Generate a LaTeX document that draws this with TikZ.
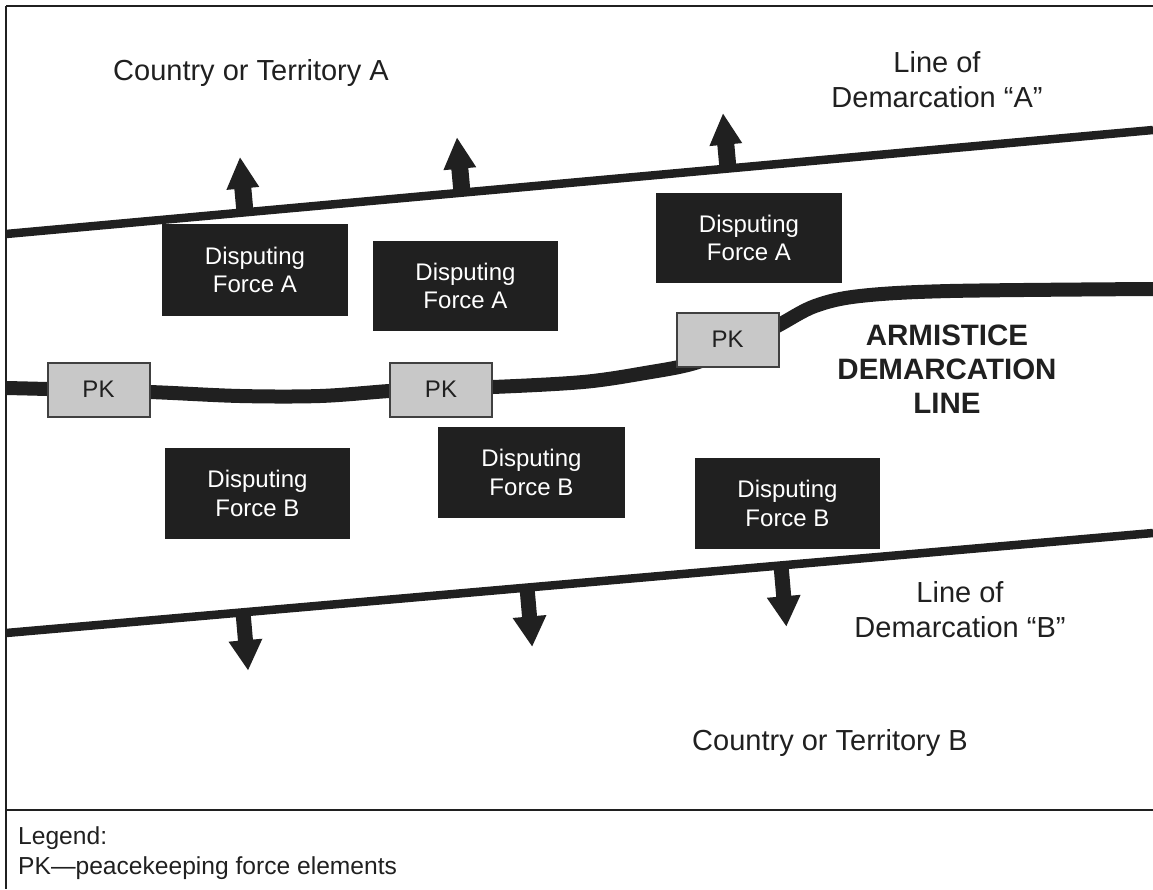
\documentclass[tikz,border=0pt]{standalone}
\usepackage{fontspec}
\setmainfont{Liberation Sans}
\definecolor{ink}{HTML}{202020}
\definecolor{pkgray}{HTML}{C8C8C8}
\definecolor{pkedge}{HTML}{404040}
\tikzset{
  frameline/.style={draw=ink, line width=2.5pt},
  demline/.style={draw=ink, line width=8.5pt},
  armline/.style={draw=ink, line width=14pt},
  dbox/.style={fill=ink, draw=none, text=white, align=center, inner sep=0pt,
    font=\fontsize{24}{28.5}\selectfont},
  pkbox/.style={fill=pkgray, draw=pkedge, line width=2pt, inner sep=0pt,
    minimum width=102pt, minimum height=54pt, text=ink,
    font=\fontsize{24}{28}\selectfont},
  biglabel/.style={align=center, text=ink, inner sep=0pt, font=\fontsize{29}{35}\selectfont},
  armlabel/.style={align=center, text=ink, inner sep=0pt, font=\bfseries\fontsize{29.5}{34}\selectfont},
  legendtext/.style={anchor=west, text=ink, inner sep=0pt, font=\fontsize{24.6}{30}\selectfont},
  arrowfill/.style={fill=ink}
}
\begin{document}
\begin{tikzpicture}[x=1pt,y=-1pt]
\useasboundingbox (0,0) rectangle (1153,889);
% frame
\draw[frameline] (6,6) -- (1153,6);
\draw[frameline] (6,6) -- (6,889);
\draw[frameline] (6,810) -- (1153,810);

% lines of demarcation
\draw[demline] (6,234) -- (1153,130);
\draw[demline] (6,633) -- (1153,533);

% arrows on line A (up)
\foreach \bx/\by in {245/212.3, 462/192.6, 728/168.5}{
  \fill[arrowfill, shift={(\bx,\by)}, rotate=5.2]
    (-8.5,3) -- (-8.5,-24) -- (-16.5,-24) -- (0,-55) -- (16.5,-24) -- (8.5,-24) -- (8.5,3) -- cycle;
}
% arrows on line B (down)
\foreach \bx/\by/\len in {243/612.3/58, 527/587.6/59, 781/565.4/61}{
  \fill[arrowfill, shift={(\bx,\by)}, rotate=5.0]
    (-7.5,-3) -- (-7.5,\len-30) -- (-17,\len-30) -- (0,\len) -- (17,\len-30) -- (7.5,\len-30) -- (7.5,-3) -- cycle;
}

% armistice line
\draw[armline, line cap=butt] plot[smooth, tension=0.55] coordinates {
  (6,388) (47,389) (150,392) (240,396) (320,396) (389,391) (440,388) (493,387)
  (583,382) (645,373) (695,363) (745,343) (779,325) (815,306) (860,296) (950,291) (1153,289)};

% disputing forces
\node[dbox, minimum width=186pt, minimum height=92pt] (fa1) at (255,270) {Disputing\\Force A};
\node[dbox, minimum width=185pt, minimum height=90pt] (fa2) at (465.5,286) {Disputing\\Force A};
\node[dbox, minimum width=186pt, minimum height=90pt] (fa3) at (749,238) {Disputing\\Force A};
\node[dbox, minimum width=185pt, minimum height=91pt] (fb1) at (257.5,493.5) {Disputing\\Force B};
\node[dbox, minimum width=187pt, minimum height=91pt] (fb2) at (531.5,472.5) {Disputing\\Force B};
\node[dbox, minimum width=185pt, minimum height=91pt] (fb3) at (787.5,503.5) {Disputing\\Force B};

% peacekeepers
\node[pkbox] (pk1) at (98.5,389.5) {PK};
\node[pkbox] (pk2) at (441,389.5) {PK};
\node[pkbox] (pk3) at (727.5,339.5) {PK};

% labels
\node[biglabel] (cta) at (251,73) {Country or Territory A};
\node[biglabel] (lda) at (937,79.5) {Line of\\Demarcation “A”};
\node[biglabel] (ldb) at (960,609.5) {Line of\\Demarcation “B”};
\node[biglabel] (ctb) at (830,743) {Country or Territory B};
\node[armlabel] (adl) at (947,369) {ARMISTICE\\DEMARCATION\\LINE};

% legend
\node[legendtext] (lg1) at (18,838) {Legend:};
\node[legendtext] (lg2) at (18,868) {PK—peacekeeping force elements};
\end{tikzpicture}
\end{document}
